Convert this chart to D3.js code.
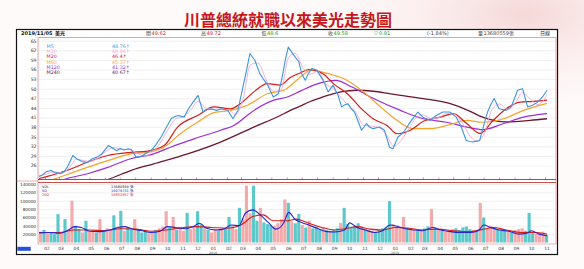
<!DOCTYPE html>
<html><head><meta charset="utf-8">
<script src="https://cdn.jsdelivr.net/npm/d3@7/dist/d3.min.js"></script>
<style>
html,body{margin:0;padding:0;background:#fff;overflow:hidden;}
svg{display:block;font-family:"DejaVu Sans","Noto Sans CJK TC",sans-serif;}
</style></head><body>
<svg id="c" width="584" height="269"></svg>
<script>
// ---------------- DATA ----------------
const chartTitle = "川普總統就職以來美光走勢圖";
const headerTexts = ["2019/11/05", "美光", "開", "49.62", "高", "49.72", "低", "48.6", "收", "49.58", "▽", "0.91", "(-1.84%)", "量", "13680559張", "日線"];
const maNames = ["M5", "M10", "M20", "M60", "M120", "M240"];
const maLastValues = ["48.76↑", "48.66↑", "46.4↑", "45.37↑", "41.32↑", "40.67↑"];
const volNames = ["VOL", "5D", "20D"];
const volLastValues = ["13680559 張", "16079731 張", "16852657 張"];
const priceTicks = [65, 62, 59, 56, 53, 50, 47, 44, 41, 38, 35, 32, 29, 26];
const volTicks = [140000, 120000, 100000, 80000, 60000, 40000, 20000];
const startDate = "2017-01-20", endDate = "2019-11-05";

const m5 = [
["2017-01-20",22.5],["2017-01-27",23.0],["2017-02-03",24.0],["2017-02-13",24.4],["2017-02-20",23.8],
["2017-02-27",23.6],["2017-03-05",23.4],["2017-03-12",24.2],["2017-03-19",25.8],["2017-03-29",29.1],
["2017-04-07",27.9],["2017-04-17",27.2],["2017-04-27",26.9],["2017-05-06",28.0],["2017-05-16",28.6],
["2017-05-26",29.6],["2017-06-08",32.2],["2017-06-18",31.3],["2017-06-25",30.6],["2017-07-02",31.3],
["2017-07-10",30.8],["2017-07-18",31.2],["2017-07-24",31.0],["2017-08-03",28.6],["2017-08-13",28.8],
["2017-08-23",29.8],["2017-09-02",30.7],["2017-09-12",32.6],["2017-09-22",34.9],["2017-10-02",37.8],
["2017-10-12",40.6],["2017-10-19",41.2],["2017-10-26",41.6],["2017-11-07",41.1],["2017-11-15",43.5],
["2017-11-25",45.8],["2017-12-05",47.9],["2017-12-15",42.7],["2017-12-22",43.4],["2018-01-01",43.7],
["2018-01-11",43.2],["2018-01-21",43.7],["2018-02-03",43.2],["2018-02-13",40.6],["2018-02-23",43.2],
["2018-03-05",50.5],["2018-03-12",55.5],["2018-03-19",61.0],["2018-03-29",58.9],["2018-04-08",54.7],
["2018-04-15",53.0],["2018-04-22",51.6],["2018-05-05",47.4],["2018-05-15",48.4],["2018-05-22",53.0],
["2018-05-29",58.9],["2018-06-04",63.0],["2018-06-15",60.5],["2018-06-25",58.5],["2018-07-01",54.7],
["2018-07-08",52.6],["2018-07-14",54.6],["2018-07-21",56.3],["2018-07-31",55.8],["2018-08-13",52.6],
["2018-08-23",49.0],["2018-09-02",51.1],["2018-09-12",47.9],["2018-09-19",44.3],["2018-09-26",45.0],
["2018-10-02",45.3],["2018-10-08",43.8],["2018-10-15",42.7],["2018-10-22",39.8],["2018-10-29",37.0],
["2018-11-08",39.1],["2018-11-14",38.0],["2018-11-21",37.5],["2018-12-04",38.0],["2018-12-14",37.0],
["2018-12-24",31.7],["2018-12-31",31.2],["2019-01-10",34.9],["2019-01-17",35.8],["2019-01-24",37.0],
["2019-02-06",40.1],["2019-02-19",42.7],["2019-03-01",41.1],["2019-03-08",40.6],["2019-03-15",40.1],
["2019-03-28",41.6],["2019-04-10",42.7],["2019-04-24",42.7],["2019-05-07",41.1],["2019-05-17",38.0],
["2019-05-27",33.8],["2019-06-03",33.5],["2019-06-09",33.3],["2019-06-16",33.6],["2019-06-23",33.8],
["2019-07-02",39.1],["2019-07-09",42.8],["2019-07-16",45.3],["2019-07-22",46.9],["2019-08-01",43.7],
["2019-08-08",43.5],["2019-08-15",43.2],["2019-08-25",44.3],["2019-09-01",47.0],["2019-09-07",49.5],
["2019-09-17",50.0],["2019-09-27",44.3],["2019-10-07",44.8],["2019-10-17",45.8],["2019-10-27",47.4],
["2019-11-05",49.5]];

const m10 = [
["2017-01-20",22.8],["2017-02-06",23.4],["2017-02-20",24.0],["2017-03-08",23.7],["2017-03-22",25.3],
["2017-04-05",28.0],["2017-04-20",27.5],["2017-05-04",27.3],["2017-05-20",28.5],["2017-06-05",30.6],
["2017-06-20",31.6],["2017-07-05",31.0],["2017-07-20",31.0],["2017-08-05",29.8],["2017-08-20",29.0],
["2017-09-05",30.2],["2017-09-20",33.0],["2017-10-05",37.0],["2017-10-20",40.4],["2017-11-05",41.3],
["2017-11-20",43.3],["2017-12-05",46.0],["2017-12-20",44.0],["2018-01-05",43.5],["2018-01-20",43.6],
["2018-02-05",43.3],["2018-02-18",41.8],["2018-03-05",46.5],["2018-03-20",57.5],["2018-04-04",58.0],
["2018-04-20",53.0],["2018-05-05",49.2],["2018-05-20",49.5],["2018-06-04",59.5],["2018-06-18",61.0],
["2018-07-04",56.5],["2018-07-18",54.5],["2018-08-02",55.5],["2018-08-18",51.5],["2018-09-02",50.0],
["2018-09-18",47.2],["2018-10-02",44.8],["2018-10-18",42.5],["2018-11-02",38.5],["2018-11-18",38.3],
["2018-12-04",37.8],["2018-12-18",35.5],["2019-01-02",32.0],["2019-01-16",33.8],["2019-02-01",37.5],
["2019-02-15",40.8],["2019-03-01",41.8],["2019-03-18",40.6],["2019-04-02",41.0],["2019-04-18",42.3],
["2019-05-03",42.0],["2019-05-18",39.5],["2019-06-02",35.5],["2019-06-18",33.5],["2019-07-02",35.8],
["2019-07-18",43.5],["2019-08-02",45.2],["2019-08-18",43.5],["2019-09-02",45.5],["2019-09-17",48.8],
["2019-10-02",46.8],["2019-10-18",45.0],["2019-11-05",48.1]];

const m20 = [
["2017-01-20",21.9],["2017-02-06",22.6],["2017-03-25",24.9],["2017-04-27",27.0],["2017-06-07",29.1],
["2017-07-23",30.1],["2017-08-26",30.5],["2017-09-28",32.2],["2017-10-25",38.0],["2017-12-04",41.6],
["2018-01-06",44.3],["2018-02-08",43.7],["2018-02-28",45.3],["2018-03-27",49.0],["2018-04-23",51.6],
["2018-05-19",51.1],["2018-06-08",53.5],["2018-06-29",55.0],["2018-07-15",56.0],["2018-08-01",55.5],
["2018-08-14",54.5],["2018-09-03",51.5],["2018-09-30",48.5],["2018-10-27",44.0],["2018-11-22",40.5],
["2018-12-19",38.5],["2019-01-08",35.9],["2019-02-04",37.0],["2019-03-02",39.8],["2019-04-05",41.1],
["2019-05-01",42.2],["2019-05-28",39.1],["2019-06-24",36.0],["2019-07-20",40.1],["2019-08-16",43.8],
["2019-09-12",45.8],["2019-10-09",46.0],["2019-11-05",46.4]];

const m60 = [
["2017-02-10",21.2],["2017-02-19",21.7],["2017-04-27",25.4],["2017-06-07",27.5],["2017-07-23",29.6],
["2017-08-26",30.1],["2017-09-28",31.7],["2017-10-31",36.0],["2017-12-04",39.5],["2018-01-06",42.5],
["2018-02-08",43.2],["2018-03-14",44.8],["2018-04-23",48.4],["2018-05-26",49.5],["2018-06-29",53.7],
["2018-07-19",55.8],["2018-09-03",54.2],["2018-09-23",53.2],["2018-11-02",49.0],["2018-12-06",44.3],
["2019-01-08",40.1],["2019-02-10",37.5],["2019-03-16",37.5],["2019-04-18",38.5],["2019-05-28",40.1],
["2019-06-30",39.5],["2019-08-10",40.6],["2019-09-19",43.2],["2019-11-05",45.4]];

const m120 = [
["2017-03-01",21.0],["2017-03-11",21.6],["2017-04-27",23.4],["2017-06-07",25.4],["2017-07-23",28.1],
["2017-09-07",29.6],["2017-10-11",31.7],["2017-11-27",34.3],["2018-01-19",37.0],["2018-02-15",38.5],
["2018-03-27",43.2],["2018-05-06",46.4],["2018-06-02",47.4],["2018-06-29",49.3],["2018-08-01",51.5],
["2018-09-07",52.6],["2018-10-10",50.5],["2018-11-22",46.9],["2019-01-15",43.2],["2019-03-02",40.6],
["2019-04-18",39.5],["2019-05-28",38.0],["2019-06-30",37.2],["2019-08-10",39.1],["2019-09-19",41.1],
["2019-11-05",42.2]];

const m240 = [
["2017-05-25",21.0],["2017-06-07",21.6],["2017-07-23",24.4],["2017-09-07",26.5],["2017-11-14",29.6],
["2018-01-19",33.3],["2018-03-27",38.0],["2018-05-19",41.6],["2018-06-08",43.2],["2018-06-29",44.6],
["2018-07-12",45.6],["2018-08-14",47.5],["2018-09-17",49.0],["2018-10-20",49.5],["2018-11-22",49.2],
["2018-12-26",48.4],["2019-03-02",46.9],["2019-04-25",45.3],["2019-05-28",43.4],["2019-06-30",41.0],
["2019-08-16",39.6],["2019-10-02",40.1],["2019-11-05",40.6]];

// weekly volume (thousands of lots), one value per week from 2017-01-20
const weeklyVolumeK = [
26,30,22,25,20,68,24,56,28,100,
40,32,24,52,26,30,24,56,28,34,
30,65,32,76,28,36,30,56,32,24,
26,22,24,30,34,38,75,36,61,30,
34,28,71,32,36,75,44,34,30,24,
32,28,30,34,61,40,32,83,58,136,
70,136,52,83,48,44,42,40,46,56,
103,95,50,46,68,42,36,52,34,38,
32,36,30,28,30,34,47,83,44,36,
40,46,38,32,30,28,26,30,34,36,
99,44,38,34,61,36,32,30,28,30,
34,38,80,36,30,28,26,30,32,34,
30,36,38,32,30,28,95,60,34,40,
36,30,32,28,26,24,30,32,34,28,
71,26,22,24,26,18];
// r = up week, c = down week
const weeklyDirection =
"rcrcccrcrr"+"ccrcrrcrcr"+"rcrcrccrcc"+"crrcrrrcrc"+"rrcrrccrcr"+
"rcrccrrcrr"+"rccrcccrrr"+"rcrccrcrcc"+"crcrccrccc"+"ccrcrrcccc"+
"crrrrcrrcr"+"ccrcrcrrrc"+"ccccrcrcrr"+"rcccrcrrrc"+"ccrrrc";

const vol5 = [
["2017-01-20",23],["2017-02-10",24],["2017-03-01",22],["2017-03-20",30],["2017-04-01",38],
["2017-04-15",36],["2017-05-01",27],["2017-05-20",26],["2017-06-10",30],["2017-06-25",35],
["2017-07-10",38],["2017-07-25",33],["2017-08-15",28],["2017-09-01",24],["2017-09-20",27],
["2017-10-05",38],["2017-10-20",36],["2017-11-10",33],["2017-11-25",38],["2017-12-08",46],
["2017-12-22",34],["2018-01-10",30],["2018-01-25",32],["2018-02-10",42],["2018-02-25",40],
["2018-03-10",70],["2018-03-25",78],["2018-04-10",65],["2018-04-25",48],["2018-05-10",32],
["2018-05-25",45],["2018-06-05",72],["2018-06-18",55],["2018-07-01",48],["2018-07-15",42],
["2018-08-01",34],["2018-08-20",26],["2018-09-05",25],["2018-09-25",30],["2018-10-05",47],
["2018-10-20",36],["2018-11-05",30],["2018-11-25",24],["2018-12-10",28],["2018-12-25",42],
["2019-01-10",38],["2019-01-25",33],["2019-02-10",30],["2019-03-01",28],["2019-03-20",36],
["2019-04-05",30],["2019-04-25",26],["2019-05-15",24],["2019-06-05",24],["2019-06-20",28],
["2019-07-01",42],["2019-07-15",36],["2019-08-01",30],["2019-08-20",27],["2019-09-10",20],
["2019-09-25",22],["2019-10-05",28],["2019-10-20",20],["2019-11-05",16]];

const vol20 = [
["2017-01-20",24],["2017-03-01",24],["2017-04-01",30],["2017-05-01",30],["2017-06-01",28],
["2017-07-01",33],["2017-08-01",32],["2017-09-01",27],["2017-10-01",30],["2017-11-01",35],
["2017-12-01",38],["2018-01-01",36],["2018-02-01",34],["2018-03-01",42],["2018-03-25",62],
["2018-04-15",66],["2018-05-05",52],["2018-06-01",52],["2018-06-20",56],["2018-07-15",46],
["2018-08-10",36],["2018-09-05",30],["2018-10-01",34],["2018-10-20",38],["2018-11-15",32],
["2018-12-10",30],["2019-01-05",36],["2019-02-01",34],["2019-03-01",30],["2019-04-01",32],
["2019-05-01",28],["2019-06-01",26],["2019-07-01",32],["2019-07-20",36],["2019-08-15",30],
["2019-09-15",24],["2019-10-15",24],["2019-11-05",20]];

// ---------------- DRAWING ----------------
const parse = d3.timeParse("%Y-%m-%d");
const svg = d3.select("#c");
const F = {L: 16.5, R: 557.5, T: 29.5, B: 254.5};
const P = {L: 38, R: 556, T: 37.5, B: 179.5};
const V = {T: 182.5, B: 244};

// background
const defs = svg.append("defs");
const rg = defs.append("radialGradient").attr("id","bg").attr("cx","0.9").attr("cy","0.05").attr("r","0.45");
rg.append("stop").attr("offset","0").attr("stop-color","#f2cccc").attr("stop-opacity",0.75);
rg.append("stop").attr("offset","1").attr("stop-color","#fff").attr("stop-opacity",0);
svg.append("rect").attr("width",584).attr("height",269).attr("fill","#fffafa");
svg.append("rect").attr("width",584).attr("height",269).attr("fill","url(#bg)");

defs.append("clipPath").attr("id","clipP").append("rect")
  .attr("x",P.L).attr("y",P.T).attr("width",P.R-P.L).attr("height",P.B-P.T);
defs.append("clipPath").attr("id","clipV").append("rect")
  .attr("x",P.L).attr("y",V.T).attr("width",P.R-P.L).attr("height",V.B-V.T);

// title
svg.append("text").attr("x",288).attr("y",26).attr("text-anchor","middle")
  .attr("font-family","'Noto Sans CJK TC'").attr("font-size",16).attr("font-weight",700)
  .attr("fill","#c8161d").text(chartTitle);

// frame
svg.append("rect").attr("x",F.L).attr("y",F.T).attr("width",F.R-F.L).attr("height",F.B-F.T)
  .attr("fill","#fff").attr("stroke","#111").attr("stroke-width",1.2);

const x = d3.scaleTime().domain([parse(startDate), parse(endDate)]).range([39, 547]);
const yP = d3.scaleLinear().domain([21.6, 66]).range([P.B, P.T]);
const yV = d3.scaleLinear().domain([0, 140000]).range([242.5, 184]);

// header
const hx = [21, 55, 146, 151.5, 201, 206.5, 261.5, 267, 328, 333.5, 374, 379, 427, 478, 483.5, 540];
const hc = ["#111","#111","#444","#d42020","#444","#d42020","#444","#119911","#444","#119911","#119911","#119911","#444","#444","#444","#222"];
const hw = [700,700,400,400,400,400,400,400,400,400,400,400,400,400,400,400];
svg.append("g").selectAll("text").data(headerTexts).join("text")
  .attr("x",(d,i)=>hx[i]).attr("y",35.3).attr("font-size",5).attr("font-weight",(d,i)=>hw[i])
  .attr("fill",(d,i)=>hc[i]).text(d=>d);
svg.append("line").attr("x1",P.L).attr("x2",P.R).attr("y1",P.T).attr("y2",P.T)
  .attr("stroke","#e8a0a0").attr("stroke-width",1.2);

// price grid + axis
svg.append("g").attr("transform",`translate(${P.L},0)`)
  .call(d3.axisLeft(yP).tickValues(priceTicks).tickSize(-(P.R-P.L)).tickFormat(""))
  .call(g=>g.select(".domain").remove())
  .call(g=>g.selectAll("line").attr("stroke","#e6e6e6").attr("stroke-width",0.6));
svg.append("g").attr("transform",`translate(${P.L-1.5},0)`)
  .call(d3.axisLeft(yP).tickValues(priceTicks).tickSize(0).tickPadding(0))
  .call(g=>g.select(".domain").remove())
  .call(g=>g.selectAll("text").attr("font-size",4.6).attr("fill","#333").attr("font-family","DejaVu Sans"));

// panel borders
svg.append("line").attr("x1",P.L).attr("x2",P.L).attr("y1",P.T).attr("y2",V.B).attr("stroke","#e8a0a0").attr("stroke-width",1);
svg.append("line").attr("x1",P.R).attr("x2",P.R).attr("y1",P.T).attr("y2",V.B).attr("stroke","#e8a0a0").attr("stroke-width",1);

// MA lines
const maData = [m5, m10, m20, m60, m120, m240];
const maColors = ["#3d95dd","#f0a8d8","#d81c1c","#f4a52a","#9c2ed8","#6e1830"];
const maWidths = [1.1, 0.9, 1.2, 1.2, 1.2, 1.3];
const gP = svg.append("g").attr("clip-path","url(#clipP)");
[5,4,3,2,1,0].forEach(i=>{
  const line = d3.line().x(d=>x(parse(d[0]))).y(d=>yP(d[1]))
    .curve(i===0 ? d3.curveLinear : d3.curveMonotoneX);
  gP.append("path").datum(maData[i]).attr("d",line).attr("fill","none")
    .attr("stroke",maColors[i]).attr("stroke-width",maWidths[i]).attr("stroke-linejoin","round");
});

// MA legend
const lg = svg.append("g");
lg.selectAll(".n").data(maNames).join("text").attr("class","n")
  .attr("x",46.5).attr("y",(d,i)=>47.6+i*5.3).attr("font-size",4.8).attr("fill",(d,i)=>maColors[i]).text(d=>d);
lg.selectAll(".v").data(maLastValues).join("text").attr("class","v")
  .attr("x",112).attr("y",(d,i)=>47.6+i*5.3).attr("font-size",4.8).attr("fill",(d,i)=>maColors[i]).text(d=>d);

// separator with month ticks
const months = d3.timeMonth.range(parse("2017-02-01"), parse("2019-11-02"));
svg.append("g").attr("transform",`translate(0,${P.B})`)
  .call(d3.axisTop(x).tickValues(months).tickSize(2).tickFormat(""))
  .call(g=>g.select(".domain").attr("stroke","#b04848").attr("stroke-width",1).attr("d",`M${P.L},0H${P.R}`))
  .call(g=>g.selectAll("line").attr("stroke","#b04848").attr("stroke-width",0.6));
svg.append("line").attr("x1",P.L).attr("x2",P.R).attr("y1",V.T).attr("y2",V.T).attr("stroke","#d05050").attr("stroke-width",1);
svg.append("line").attr("x1",F.L).attr("x2",P.L).attr("y1",181).attr("y2",181).attr("stroke","#d08080").attr("stroke-width",0.6);

// volume grid + axis
svg.append("g").attr("transform",`translate(${P.L},0)`)
  .call(d3.axisLeft(yV).tickValues(volTicks).tickSize(-(P.R-P.L)).tickFormat(""))
  .call(g=>g.select(".domain").remove())
  .call(g=>g.selectAll("line").attr("stroke","#e6e6e6").attr("stroke-width",0.6));
svg.append("g").attr("transform",`translate(${P.L-2},0)`)
  .call(d3.axisLeft(yV).tickValues(volTicks).tickSize(0).tickPadding(0).tickFormat(d3.format("d")))
  .call(g=>g.select(".domain").remove())
  .call(g=>g.selectAll("text").attr("font-size",4.2).attr("fill","#333").attr("font-family","DejaVu Sans"));

// volume bars
const t0 = parse(startDate);
const weeks = weeklyVolumeK.map((v,i)=>({d:d3.timeDay.offset(t0,7*i), v:v*1000, up:weeklyDirection[i]==="r"}));
const bw = (x(d3.timeDay.offset(t0,7))-x(t0))*0.9;
const gV = svg.append("g").attr("clip-path","url(#clipV)");
gV.selectAll("rect").data(weeks).join("rect")
  .attr("x",d=>x(d.d)).attr("width",bw)
  .attr("y",d=>yV(d.v)).attr("height",d=>yV(0)-yV(d.v))
  .attr("fill",d=>d.up?"#f4aaaa":"#5cc8cb");
const vline = d3.line().x(d=>x(parse(d[0]))).y(d=>yV(d[1]*1000)).curve(d3.curveMonotoneX);
gV.append("path").datum(vol20).attr("d",vline).attr("fill","none").attr("stroke","#d81c1c").attr("stroke-width",1.1);
gV.append("path").datum(vol5).attr("d",vline).attr("fill","none").attr("stroke","#2424c8").attr("stroke-width",1.1);
svg.append("line").attr("x1",P.L).attr("x2",P.R).attr("y1",V.B).attr("y2",V.B).attr("stroke","#e8a0a0").attr("stroke-width",0.8);

// volume legend
const vc = ["#222","#2424c8","#d81c1c"];
const vl = svg.append("g");
vl.selectAll(".n").data(volNames).join("text").attr("class","n")
  .attr("x",42).attr("y",(d,i)=>188.4+i*3.9).attr("font-size",3.5).attr("fill",(d,i)=>vc[i]).text(d=>d);
vl.selectAll(".v").data(volLastValues).join("text").attr("class","v")
  .attr("x",111).attr("y",(d,i)=>188.4+i*3.9).attr("font-size",3.5).attr("fill",(d,i)=>vc[i]).text(d=>d);

// x axis month labels
svg.append("g").attr("transform",`translate(1.5,${V.B+1})`)
  .call(d3.axisBottom(x).tickValues(months).tickSize(0).tickPadding(2).tickFormat(d3.timeFormat("%m")))
  .call(g=>g.select(".domain").remove())
  .call(g=>g.selectAll("text").attr("font-size",4.4).attr("fill","#333").attr("font-family","DejaVu Sans"));
const years = months.filter(d=>d.getMonth()===0);
svg.append("g").selectAll("text").data(years).join("text")
  .attr("x",d=>x(d)+1.5).attr("y",253.6).attr("text-anchor","middle").attr("font-size",3.2).attr("fill","#555")
  .text(d=>d3.timeFormat("%Y")(d));

// bottom-left marker
svg.append("rect").attr("x",F.L+0.8).attr("y",246.8).attr("width",13.5).attr("height",4).attr("fill","#2850d8");
</script>
</body></html>
